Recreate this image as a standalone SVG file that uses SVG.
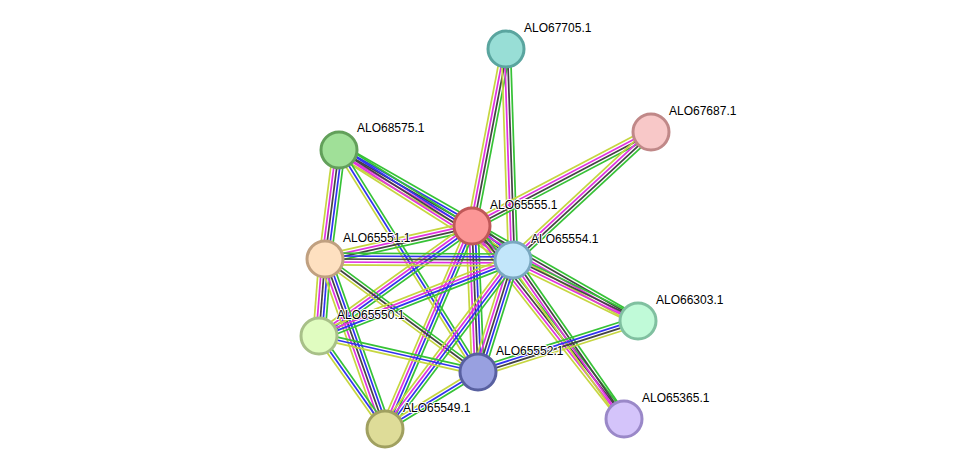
<svg xmlns="http://www.w3.org/2000/svg" width="975" height="474" viewBox="0 0 975 474">
<style>
line{stroke-width:1.5;fill:none}
.g{stroke:#36c236}.b{stroke:#3232f0}.k{stroke:#444}.m{stroke:#e032e0}.y{stroke:#c6d640}
.node circle{stroke-width:3}
text{font-family:"Liberation Sans",Arial,sans-serif;font-size:12px;fill:#000;stroke:#fff;stroke-width:2;paint-order:stroke;stroke-linejoin:round}
</style>
<rect width="975" height="474" fill="#fff"/>
<g id="edges">
<!-- A-D -->
<g transform="translate(506,49) rotate(100.87) scale(1,1.15)"><line x2="180.2" y1="-3.9" y2="-3.9" class="g"/><line x2="180.2" y1="-1.3" y2="-1.3" class="k"/><line x2="180.2" y1="1.3" y2="1.3" class="m"/><line x2="180.2" y1="3.9" y2="3.9" class="y"/></g>
<!-- A-F -->
<g transform="translate(506,49) rotate(88.1) scale(1,1.15)"><line x2="211.1" y1="-3.9" y2="-3.9" class="g"/><line x2="211.1" y1="-1.3" y2="-1.3" class="k"/><line x2="211.1" y1="1.3" y2="1.3" class="m"/><line x2="211.1" y1="3.9" y2="3.9" class="y"/></g>
<!-- B-D -->
<g transform="translate(651,132) rotate(152.3) scale(1,1.15)"><line x2="202.2" y1="-3.9" y2="-3.9" class="g"/><line x2="202.2" y1="-1.3" y2="-1.3" class="k"/><line x2="202.2" y1="1.3" y2="1.3" class="m"/><line x2="202.2" y1="3.9" y2="3.9" class="y"/></g>
<!-- B-F -->
<g transform="translate(651,132) rotate(137.15) scale(1,1.15)"><line x2="188.2" y1="-3.9" y2="-3.9" class="g"/><line x2="188.2" y1="-1.3" y2="-1.3" class="k"/><line x2="188.2" y1="1.3" y2="1.3" class="m"/><line x2="188.2" y1="3.9" y2="3.9" class="y"/></g>
<!-- C-D -->
<g transform="translate(339,150) rotate(29.74) scale(1,1.15)"><line x2="153.2" y1="-5.2" y2="-5.2" class="g"/><line x2="153.2" y1="-2.6" y2="-2.6" class="b"/><line x2="153.2" class="k"/><line x2="153.2" y1="2.6" y2="2.6" class="m"/><line x2="153.2" y1="5.2" y2="5.2" class="y"/></g>
<!-- C-F -->
<g transform="translate(339,150) rotate(32.3) scale(1,1.15)"><line x2="205.9" y1="-5.2" y2="-5.2" class="g"/><line x2="205.9" y1="-2.6" y2="-2.6" class="b"/><line x2="205.9" class="k"/><line x2="205.9" y1="2.6" y2="2.6" class="m"/><line x2="205.9" y1="5.2" y2="5.2" class="y"/></g>
<!-- C-E -->
<g transform="translate(339,150) rotate(97.32) scale(1,1.15)"><line x2="109.9" y1="-5.2" y2="-5.2" class="g"/><line x2="109.9" y1="-2.6" y2="-2.6" class="b"/><line x2="109.9" class="k"/><line x2="109.9" y1="2.6" y2="2.6" class="m"/><line x2="109.9" y1="5.2" y2="5.2" class="y"/></g>
<!-- C-I -->
<g transform="translate(339,150) rotate(57.94) scale(1,1.15)"><line x2="261.9" y1="-2.6" y2="-2.6" class="g"/><line x2="261.9" class="b"/><line x2="261.9" y1="2.6" y2="2.6" class="y"/></g>
<!-- D-E -->
<g transform="translate(472,226) rotate(167.35) scale(1,1.15)"><line x2="150.7" y1="-3.9" y2="-3.9" class="g"/><line x2="150.7" y1="-1.3" y2="-1.3" class="k"/><line x2="150.7" y1="1.3" y2="1.3" class="m"/><line x2="150.7" y1="3.9" y2="3.9" class="y"/></g>
<!-- D-F -->
<g transform="translate(472,226) rotate(39.67) scale(1,1.15)"><line x2="53.3" y1="-5.2" y2="-5.2" class="g"/><line x2="53.3" y1="-2.6" y2="-2.6" class="b"/><line x2="53.3" class="k"/><line x2="53.3" y1="2.6" y2="2.6" class="m"/><line x2="53.3" y1="5.2" y2="5.2" class="y"/></g>
<!-- D-H -->
<g transform="translate(472,226) rotate(144.29) scale(1,1.15)"><line x2="188.4" y1="-3.9" y2="-3.9" class="g"/><line x2="188.4" y1="-1.3" y2="-1.3" class="b"/><line x2="188.4" y1="1.3" y2="1.3" class="m"/><line x2="188.4" y1="3.9" y2="3.9" class="y"/></g>
<!-- D-I -->
<g transform="translate(472,226) rotate(87.65) scale(1,1.15)"><line x2="146.1" y1="-5.2" y2="-5.2" class="g"/><line x2="146.1" y1="-2.6" y2="-2.6" class="b"/><line x2="146.1" class="k"/><line x2="146.1" y1="2.6" y2="2.6" class="m"/><line x2="146.1" y1="5.2" y2="5.2" class="y"/></g>
<!-- D-J -->
<g transform="translate(472,226) rotate(113.2) scale(1,1.15)"><line x2="220.9" y1="-3.9" y2="-3.9" class="g"/><line x2="220.9" y1="-1.3" y2="-1.3" class="b"/><line x2="220.9" y1="1.3" y2="1.3" class="m"/><line x2="220.9" y1="3.9" y2="3.9" class="y"/></g>
<!-- D-G -->
<g transform="translate(472,226) rotate(29.78) scale(1,1.15)"><line x2="191.3" y1="-3.9" y2="-3.9" class="g"/><line x2="191.3" y1="-1.3" y2="-1.3" class="k"/><line x2="191.3" y1="1.3" y2="1.3" class="m"/><line x2="191.3" y1="3.9" y2="3.9" class="y"/></g>
<!-- D-K -->
<g transform="translate(472,226) rotate(51.78) scale(1,1.15)"><line x2="245.7" y1="-3.9" y2="-3.9" class="g"/><line x2="245.7" y1="-1.3" y2="-1.3" class="k"/><line x2="245.7" y1="1.3" y2="1.3" class="m"/><line x2="245.7" y1="3.9" y2="3.9" class="y"/></g>
<!-- E-F -->
<g transform="translate(325,259) rotate(0.3) scale(1,1.15)"><line x2="188" y1="-5.2" y2="-5.2" class="g"/><line x2="188" y1="-2.6" y2="-2.6" class="b"/><line x2="188" class="k"/><line x2="188" y1="2.6" y2="2.6" class="m"/><line x2="188" y1="5.2" y2="5.2" class="y"/></g>
<!-- E-H -->
<g transform="translate(325,259) rotate(94.46) scale(1,1.15)"><line x2="77.2" y1="-5.2" y2="-5.2" class="g"/><line x2="77.2" y1="-2.6" y2="-2.6" class="b"/><line x2="77.2" class="k"/><line x2="77.2" y1="2.6" y2="2.6" class="m"/><line x2="77.2" y1="5.2" y2="5.2" class="y"/></g>
<!-- E-I -->
<g transform="translate(325,259) rotate(36.45) scale(1,1.15)"><line x2="190.2" y1="-2.6" y2="-2.6" class="g"/><line x2="190.2" class="k"/><line x2="190.2" y1="2.6" y2="2.6" class="y"/></g>
<!-- E-J -->
<g transform="translate(325,259) rotate(70.56) scale(1,1.15)"><line x2="180.3" y1="-5.2" y2="-5.2" class="g"/><line x2="180.3" y1="-2.6" y2="-2.6" class="b"/><line x2="180.3" class="k"/><line x2="180.3" y1="2.6" y2="2.6" class="m"/><line x2="180.3" y1="5.2" y2="5.2" class="y"/></g>
<!-- F-G -->
<g transform="translate(513,260) rotate(26.01) scale(1,1.15)"><line x2="139.1" y1="-3.9" y2="-3.9" class="g"/><line x2="139.1" y1="-1.3" y2="-1.3" class="k"/><line x2="139.1" y1="1.3" y2="1.3" class="m"/><line x2="139.1" y1="3.9" y2="3.9" class="y"/></g>
<!-- F-K -->
<g transform="translate(513,260) rotate(55.08) scale(1,1.15)"><line x2="193.9" y1="-3.9" y2="-3.9" class="g"/><line x2="193.9" y1="-1.3" y2="-1.3" class="k"/><line x2="193.9" y1="1.3" y2="1.3" class="m"/><line x2="193.9" y1="3.9" y2="3.9" class="y"/></g>
<!-- F-I -->
<g transform="translate(513,260) rotate(107.35) scale(1,1.15)"><line x2="117.3" y1="-5.2" y2="-5.2" class="g"/><line x2="117.3" y1="-2.6" y2="-2.6" class="b"/><line x2="117.3" class="k"/><line x2="117.3" y1="2.6" y2="2.6" class="m"/><line x2="117.3" y1="5.2" y2="5.2" class="y"/></g>
<!-- F-J -->
<g transform="translate(513,260) rotate(127.14) scale(1,1.15)"><line x2="212" y1="-3.9" y2="-3.9" class="g"/><line x2="212" y1="-1.3" y2="-1.3" class="b"/><line x2="212" y1="1.3" y2="1.3" class="m"/><line x2="212" y1="3.9" y2="3.9" class="y"/></g>
<!-- F-H -->
<g transform="translate(513,260) rotate(158.61) scale(1,1.15)"><line x2="208.4" y1="-3.9" y2="-3.9" class="g"/><line x2="208.4" y1="-1.3" y2="-1.3" class="b"/><line x2="208.4" y1="1.3" y2="1.3" class="m"/><line x2="208.4" y1="3.9" y2="3.9" class="y"/></g>
<!-- H-I -->
<g transform="translate(319,336) rotate(12.76) scale(1,1.15)"><line x2="163" y1="-2.6" y2="-2.6" class="g"/><line x2="163" class="b"/><line x2="163" y1="2.6" y2="2.6" class="y"/></g>
<!-- H-J -->
<g transform="translate(319,336) rotate(54.64) scale(1,1.15)"><line x2="114" y1="-2.6" y2="-2.6" class="g"/><line x2="114" class="b"/><line x2="114" y1="2.6" y2="2.6" class="y"/></g>
<!-- I-J -->
<g transform="translate(478,372) rotate(148.5) scale(1,1.15)"><line x2="109.1" y1="-2.6" y2="-2.6" class="g"/><line x2="109.1" class="b"/><line x2="109.1" y1="2.6" y2="2.6" class="y"/></g>
<!-- I-G -->
<g transform="translate(478,372) rotate(-17.68) scale(1,1.15)"><line x2="167.9" y1="-3.9" y2="-3.9" class="g"/><line x2="167.9" y1="-1.3" y2="-1.3" class="b"/><line x2="167.9" y1="1.3" y2="1.3" class="k"/><line x2="167.9" y1="3.9" y2="3.9" class="y"/></g>
</g>
<g id="n-ALO67705" class="node"><circle cx="506" cy="49" r="18" fill="#98ded6" stroke="#5aa59f"/><text x="524" y="32">ALO67705.1</text></g>
<g id="n-ALO67687" class="node"><circle cx="651" cy="132" r="18" fill="#f8c8c8" stroke="#c08888"/><text x="669" y="115">ALO67687.1</text></g>
<g id="n-ALO68575" class="node"><circle cx="339" cy="150" r="18" fill="#a0e098" stroke="#62a05a"/><text x="357" y="132">ALO68575.1</text></g>
<g id="n-ALO65555" class="node"><circle cx="472" cy="226" r="18" fill="#fc9696" stroke="#c05858"/><text x="490" y="209">ALO65555.1</text></g>
<g id="n-ALO65551" class="node"><circle cx="325" cy="259" r="18" fill="#fee0c0" stroke="#c0a080"/><text x="343" y="242">ALO65551.1</text></g>
<g id="n-ALO65554" class="node"><circle cx="513" cy="260" r="18" fill="#c2e6fa" stroke="#7aa8c0"/><text x="531" y="243">ALO65554.1</text></g>
<g id="n-ALO66303" class="node"><circle cx="638" cy="321" r="18" fill="#c0fad8" stroke="#80c0a0"/><text x="656" y="304">ALO66303.1</text></g>
<g id="n-ALO65550" class="node"><circle cx="319" cy="336" r="18" fill="#e0fcc0" stroke="#a8c088"/><text x="337" y="319">ALO65550.1</text></g>
<g id="n-ALO65552" class="node"><circle cx="478" cy="372" r="18" fill="#98a0e0" stroke="#5860a0"/><text x="496" y="355">ALO65552.1</text></g>
<g id="n-ALO65549" class="node"><circle cx="385" cy="429" r="18" fill="#dedc98" stroke="#a0a060"/><text x="403" y="412">ALO65549.1</text></g>
<g id="n-ALO65365" class="node"><circle cx="624" cy="419" r="18" fill="#d4c4fa" stroke="#9a88c8"/><text x="642" y="402">ALO65365.1</text></g>
</svg>
